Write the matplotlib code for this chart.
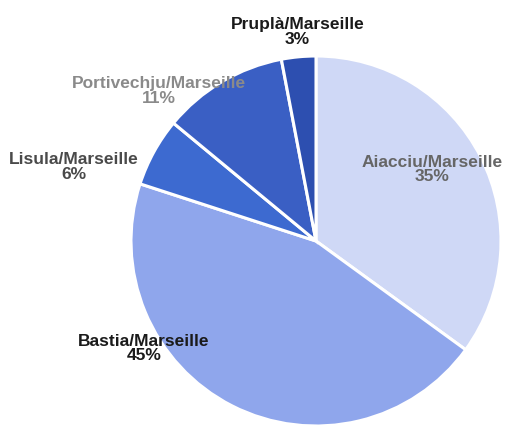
import matplotlib
matplotlib.use("Agg")
import matplotlib.pyplot as plt
import numpy as np

categories = ["Aiacciu/Marseille", "Bastia/Marseille", "Lisula/Marseille",
              "Portivechju/Marseille", "Pruplà/Marseille"]
shares = [35, 45, 6, 11, 3]
colors = ["#cfd8f6", "#8fa6ec", "#3d6ad0", "#3a5fc4", "#2d4fb0"]
label_colors = ["#666666", "#1a1a1a", "#4a4a4a", "#8a8a8a", "#1a1a1a"]
# label offsets from pie centre, in radii (layout only)
label_offsets = [(0.625, 0.386), (-0.93, -0.58), (-1.31, 0.40), (-0.85, 0.81), (-0.10, 1.13)]

W, H = 507, 426
fig = plt.figure(figsize=(W / 100, H / 100), dpi=100)
ax = fig.add_axes([0, 0, 1, 1])

cx, cy, R = 316, H - 241, 185
wedges, _ = ax.pie(shares, colors=colors, startangle=90, counterclock=False,
                   center=(cx, cy), radius=R, frame=True,
                   wedgeprops=dict(edgecolor="white", linewidth=2.2))
ax.set_xlim(0, W)
ax.set_ylim(0, H)
ax.set_aspect("equal")
ax.axis("off")

for cat, val, (ox, oy), lc in zip(categories, shares, label_offsets, label_colors):
    ax.text(cx + ox * R, cy + oy * R, f"{cat}\n{val}%", ha="center", va="center",
            fontsize=12.5, fontweight="bold", color=lc, linespacing=0.95,
            family=["Liberation Sans", "DejaVu Sans"])

fig.savefig("out.png", dpi=100)
